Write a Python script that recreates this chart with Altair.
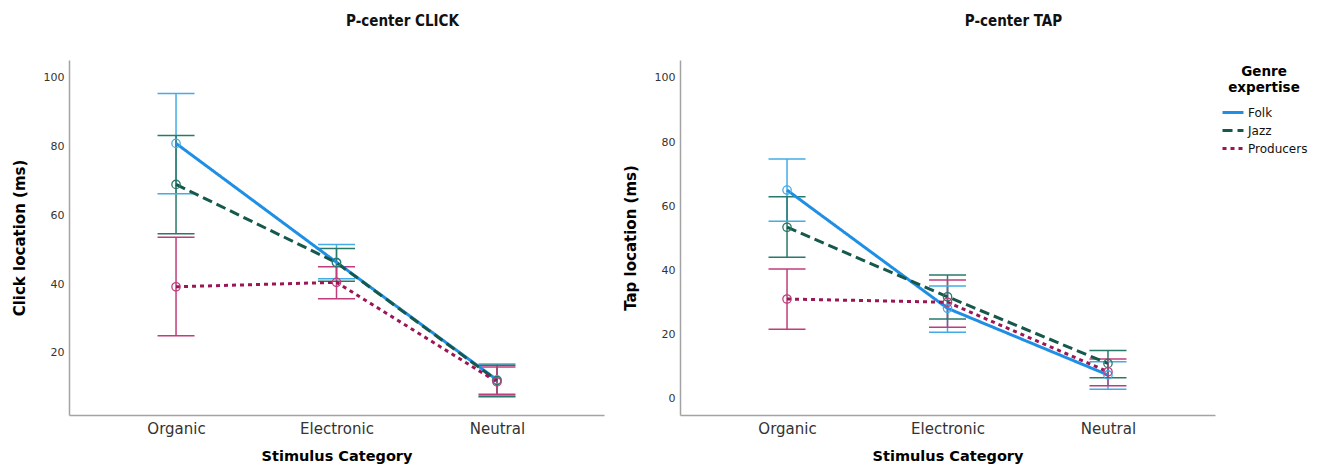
import altair as alt
import pandas as pd

categories = ["Organic", "Electronic", "Neutral"]
groups = ["Folk", "Jazz", "Producers"]

# P-center CLICK (ms): means and error-bar bounds per group, per category
click_mean = {"Folk": [80.8, 46.3, 12.2], "Jazz": [68.9, 46.2, 12.0], "Producers": [39.2, 40.5, 11.6]}
click_lo = {"Folk": [66.2, 41.5, 7.6], "Jazz": [54.6, 40.8, 7.3], "Producers": [25.0, 35.7, 8.0]}
click_hi = {"Folk": [95.3, 51.5, 16.8], "Jazz": [83.1, 50.3, 16.4], "Producers": [53.6, 45.0, 15.9]}

# P-center TAP (ms)
tap_mean = {"Folk": [65.0, 28.1, 7.3], "Jazz": [53.4, 31.7, 10.9], "Producers": [31.0, 30.0, 8.3]}
tap_lo = {"Folk": [55.3, 20.6, 2.8], "Jazz": [44.0, 24.8, 6.4], "Producers": [21.6, 22.2, 3.9]}
tap_hi = {"Folk": [74.7, 35.1, 11.4], "Jazz": [62.9, 38.5, 14.9], "Producers": [40.4, 36.9, 12.3]}

line_colors = ["#1f8fe5", "#16594c", "#9b1655"]
bar_colors = {"Folk": "#43ace6", "Jazz": "#2a7868", "Producers": "#bf3d7c"}
dashes = [[1, 0], [10, 5], [4, 4]]

FONT = "DejaVu Sans"
TITLE_FONT = "Liberation Sans Narrow, DejaVu Sans Condensed, Arial Narrow, sans-serif"


def build_df(mean, lo, hi):
    rows = []
    for g in groups:
        for i, c in enumerate(categories):
            rows.append({"Genre": g, "Category": c, "mean": mean[g][i],
                         "lo": lo[g][i], "hi": hi[g][i], "ebc": bar_colors[g]})
    return pd.DataFrame(rows)


def panel(mean, lo, hi, title, ytitle, domain, ticks):
    df = build_df(mean, lo, hi)
    xenc = alt.X("Category:N", sort=categories,
                 scale=alt.Scale(type="point", domain=categories, padding=0.667),
                 axis=alt.Axis(title="Stimulus Category", labelAngle=0))
    yscale = alt.Scale(domain=domain, nice=False, zero=False)
    yaxis = alt.Axis(title=ytitle, values=ticks)
    base = alt.Chart(df).encode(x=xenc)
    stroke_eb = alt.Stroke("ebc:N", scale=None)

    rules = base.mark_rule(strokeWidth=1.5).encode(
        y=alt.Y("lo:Q", scale=yscale, axis=yaxis), y2="hi:Q", stroke=stroke_eb)
    cap_hi = base.mark_rule(strokeWidth=1.5, xOffset=-18.5, x2Offset=18.5).encode(
        x2="Category:N", y=alt.Y("hi:Q", scale=yscale, axis=yaxis), stroke=stroke_eb)
    cap_lo = base.mark_rule(strokeWidth=1.5, xOffset=-18.5, x2Offset=18.5).encode(
        x2="Category:N", y=alt.Y("lo:Q", scale=yscale, axis=yaxis), stroke=stroke_eb)
    lines = base.mark_line(strokeWidth=3, strokeCap="butt").encode(
        y=alt.Y("mean:Q", scale=yscale, axis=yaxis),
        color=alt.Color("Genre:N", scale=alt.Scale(domain=groups, range=line_colors),
                        title=["Genre", "expertise"]),
        strokeDash=alt.StrokeDash("Genre:N", scale=alt.Scale(domain=groups, range=dashes),
                                  title=["Genre", "expertise"]),
        detail="Genre:N")
    points = base.mark_point(filled=False, size=70, strokeWidth=1.3, opacity=1).encode(
        y=alt.Y("mean:Q", scale=yscale, axis=yaxis), stroke=stroke_eb)

    return alt.layer(rules, cap_hi, cap_lo, lines, points).properties(
        width=535, height=355,
        title=alt.TitleParams(title, frame="group", anchor="middle", dx=66,
                              font=TITLE_FONT, fontSize=15, fontWeight="bold",
                              offset=31, color="#111"))


left = panel(click_mean, click_lo, click_hi, "P-center CLICK", "Click location (ms)",
             [2, 105], [20, 40, 60, 80, 100])
right = panel(tap_mean, tap_lo, tap_hi, "P-center TAP", "Tap location (ms)",
              [-5.2, 105.6], [0, 20, 40, 60, 80, 100])

chart = alt.hconcat(left, right, spacing=19).properties(
    padding={"left": 12, "top": 14, "right": 5, "bottom": 5}
).configure_view(stroke=None).configure_axis(
    domainColor="#a3a3a3", domainWidth=1.5, ticks=False, grid=False,
    labelFont=FONT, titleFont=FONT, labelColor="#333333", titleColor="#000000",
    titleFontWeight="bold", titleFontSize=15, labelPadding=5
).configure_axisX(
    labelFontSize=15, titleFontSize=14.5, labelPadding=6, titlePadding=13
).configure_axisY(
    labelFontSize=11, titlePadding=16
).configure_legend(
    orient="right", offset=1, padding=5, titleFont=FONT, titleFontSize=13.5,
    titleFontWeight="bold", titleAlign="center", titleAnchor="middle", titleLineHeight=16,
    labelFont=FONT, labelFontSize=12, labelColor="#111", symbolStrokeWidth=3,
    symbolSize=440, symbolType="stroke", rowPadding=-3, labelOffset=3, titlePadding=6
)

chart.save("out.html", embed_options={"renderer": "svg", "actions": False})
